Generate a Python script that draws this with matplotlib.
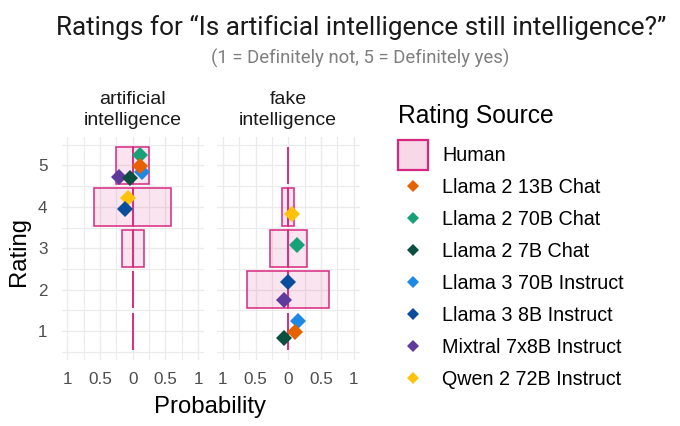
import matplotlib
matplotlib.use("Agg")
import numpy as np
import matplotlib.pyplot as plt
from matplotlib.colors import to_rgba
from matplotlib.lines import Line2D
from matplotlib.patches import Patch
from matplotlib.legend_handler import HandlerLine2D
from matplotlib.ticker import FixedLocator, FuncFormatter

plt.rcParams["font.family"] = ["Liberation Sans", "DejaVu Sans"]

# ---------------- data ----------------
title = "Ratings for \u201cIs artificial intelligence still intelligence?\u201d"
subtitle = "(1 = Definitely not, 5 = Definitely yes)"
facets = ["artificial\nintelligence", "fake\nintelligence"]
ratings = [1, 2, 3, 4, 5]
human_ai = [0.0, 0.0, 0.165, 0.585, 0.25]
human_fake = [0.0, 0.625, 0.28, 0.095, 0.0]

models = ["Llama 2 13B Chat", "Llama 2 70B Chat", "Llama 2 7B Chat",
          "Llama 3 70B Instruct", "Llama 3 8B Instruct",
          "Mixtral 7x8B Instruct", "Qwen 2 72B Instruct"]
model_colors = ["#E66100", "#18A078", "#0A4F3F", "#1E88E5", "#0A4D9C",
                "#5D3A9B", "#FFC20A"]
# model points: x offset (probability axis), y (rating)
ai_x = [0.107, 0.107, -0.04, 0.14, -0.12, -0.21, -0.08]
ai_y = [4.98, 5.25, 4.70, 4.85, 3.95, 4.73, 4.21]
fake_x = [0.10, 0.13, -0.07, 0.15, 0.0, -0.07, 0.05]
fake_y = [0.99, 3.08, 0.83, 1.24, 2.19, 1.76, 3.84]

x_major = [-1, -0.5, 0, 0.5, 1]
x_minor = [-0.75, -0.25, 0.25, 0.75]
y_minor = [0.5, 1.5, 2.5, 3.5, 4.5, 5.5]

human_edge = "#D8277F"
human_fill = to_rgba(human_edge, 0.12)

# ---------------- figure ----------------
W, H = 680, 426
fig = plt.figure(figsize=(W / 100, H / 100), dpi=100)


def rect(x0, y0, x1, y1):
    return [x0 / W, 1 - y1 / H, (x1 - x0) / W, (y1 - y0) / H]


axes = [fig.add_axes(rect(61.5, 136.7, 204, 360)),
        fig.add_axes(rect(217, 136.7, 359.5, 360))]
panel_centers = [132.75, 288.25]

data = [(human_ai, ai_x, ai_y), (human_fake, fake_x, fake_y)]
for k, (ax, (probs, xs, ys)) in enumerate(zip(axes, data)):
    ax.barh(ratings, probs, height=0.9, left=0, facecolor=human_fill,
            edgecolor=human_edge, linewidth=1.1, zorder=2)
    ax.barh(ratings, [-p for p in probs], height=0.9, left=0,
            facecolor=human_fill, edgecolor=human_edge, linewidth=1.1,
            zorder=2)
    for i in reversed(range(len(models))):
        ax.plot([xs[i]], [ys[i]], marker="D", ms=8, color=model_colors[i],
                mew=0, ls="none", zorder=3)
    ax.set_xlim(-1.089, 1.089)
    ax.set_ylim(0.305, 5.695)
    ax.xaxis.set_major_locator(FixedLocator(x_major))
    ax.xaxis.set_minor_locator(FixedLocator(x_minor))
    ax.yaxis.set_major_locator(FixedLocator(ratings))
    ax.yaxis.set_minor_locator(FixedLocator(y_minor))
    ax.xaxis.set_major_formatter(FuncFormatter(lambda v, p: f"{abs(v):g}"))
    ax.grid(which="major", color="#EBEBEB", lw=1.0)
    ax.grid(which="minor", color="#EBEBEB", lw=0.85)
    ax.set_axisbelow(True)
    for s in ax.spines.values():
        s.set_visible(False)
    ax.tick_params(which="both", length=0)
    ax.tick_params(axis="x", pad=8.5, labelsize=12.3, labelcolor="#4D4D4D")
    ax.tick_params(axis="y", pad=10, labelsize=12.3, labelcolor="#4D4D4D")
    if k == 1:
        ax.tick_params(axis="y", labelleft=False)
    # facet strip labels
    for j, line in enumerate(facets[k].split("\n")):
        fig.text(panel_centers[k] / W, 1 - (104 + 21 * j) / H, line,
                 ha="center", va="baseline", fontsize=14, color="#1A1A1A")

fig.text(361 / W, 1 - 35.5 / H, title, ha="center", va="baseline",
         fontsize=18.85, family=["Roboto", "DejaVu Sans"], color="#1A1A1A")
fig.text(360.5 / W, 1 - 63.8 / H, subtitle, ha="center", va="baseline",
         fontsize=13.3, family=["Roboto", "DejaVu Sans"], color="#7F7F7F")

fig.text(19.5 / W, 1 - 252 / H, "Rating", rotation=90, ha="center",
         va="center", fontsize=17.2, color="#000000")
fig.text(210.5 / W, 1 - 413.5 / H, "Probability", ha="center",
         va="baseline", fontsize=17.2, color="#000000")


class CenteredMarkerHandler(HandlerLine2D):
    """Place the legend marker level with the middle of the label text."""

    def create_artists(self, legend, orig_handle, xdescent, ydescent,
                       width, height, fontsize, trans):
        arts = super().create_artists(legend, orig_handle, xdescent,
                                      ydescent, width, height, fontsize,
                                      trans)
        for a in arts:
            a.set_ydata(np.asarray(a.get_ydata(), dtype=float) - 2.6)
        return arts


# legend
fig.text(398.3 / W, 1 - 123.3 / H, "Rating Source", ha="left",
         va="baseline", fontsize=17.7, color="#000000")
handles = [Patch(facecolor=to_rgba(human_edge, 0.18), edgecolor=human_edge,
                 linewidth=1.6)]
handles += [Line2D([], [], marker="D", ms=6, color=c, mew=0, ls="none")
            for c in model_colors]
labels = ["Human"] + models
fig.legend(handles, labels, loc="upper left",
           bbox_to_anchor=(398 / W, 1 - 140 / H), frameon=False,
           fontsize=14.2, handlelength=1.52, handleheight=1.95,
           handletextpad=0.72, labelspacing=0.11, borderpad=0,
           borderaxespad=0,
           handler_map={Line2D: CenteredMarkerHandler()})

fig.savefig("out.png", dpi=100)
